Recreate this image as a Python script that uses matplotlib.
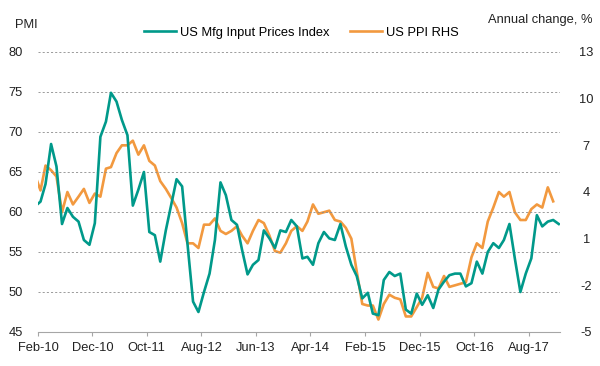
import numpy as np
import pandas as pd
import matplotlib
matplotlib.use("Agg")
import matplotlib.pyplot as plt

plt.rcParams['font.family'] = ['Liberation Sans', 'DejaVu Sans']
plt.rcParams['axes.unicode_minus'] = False

# monthly data, Jan-10 .. Jan-18 (PMI) / Dec-17 (PPI)
mfg_input_prices = [
    60.7, 61.3, 63.5, 68.5, 65.7, 58.5, 60.5, 59.4, 58.8, 56.5, 55.9, 58.6,
    69.4, 71.3, 74.9, 73.8, 71.5, 69.6, 60.8, 62.8, 65.0, 57.5, 57.1, 53.8,
    57.7, 61.0, 64.1, 63.2, 56.0, 48.8, 47.5, 50.0, 52.3, 56.5, 63.7, 62.1,
    59.0, 58.4, 55.3, 52.2, 53.4, 54.0, 57.7, 56.7, 55.5, 57.7, 57.5, 59.0,
    58.2, 54.2, 54.4, 53.4, 56.1, 57.5, 56.7, 56.5, 58.5, 55.7, 53.4, 52.0,
    49.2, 49.9, 47.3, 47.1, 51.5, 52.5, 52.0, 52.3, 47.8, 47.3, 49.8, 48.4,
    49.6, 48.0, 50.3, 51.3, 52.1, 52.3, 52.3, 50.7, 51.1, 53.8, 52.3, 55.0,
    56.1, 55.5, 56.5, 58.5, 54.2, 50.0, 52.3, 54.2, 59.6, 58.2, 58.8, 59.0,
    58.5,
]
us_ppi = [
    5.1, 4.1, 5.7, 5.4, 5.0, 2.7, 4.0, 3.2, 3.7, 4.2, 3.3, 3.9,
    3.7, 5.5, 5.6, 6.5, 7.0, 7.0, 7.3, 6.4, 7.0, 6.0, 5.7, 4.7,
    4.2, 3.6, 3.0, 2.0, 0.7, 0.7, 0.4, 1.9, 1.9, 2.3, 1.5, 1.3,
    1.5, 1.8, 1.2, 0.7, 1.5, 2.2, 2.0, 1.2, 0.2, 0.1, 0.7, 1.5,
    1.8, 1.5, 2.1, 3.2, 2.6, 2.7, 2.8, 2.2, 2.1, 1.7, 1.0, -1.1,
    -3.2, -3.3, -3.3, -4.2, -3.2, -2.6, -2.8, -2.9, -4.0, -4.0, -3.4, -2.8,
    -1.2, -2.1, -2.2, -1.4, -2.1, -2.0, -1.9, -1.8, -0.2, 0.7, 0.4, 2.1,
    3.0, 4.0, 3.7, 4.0, 2.7, 2.2, 2.2, 2.9, 3.2, 3.0, 4.3, 3.4,
]
pmi_dates = pd.date_range('2010-01-01', periods=len(mfg_input_prices), freq='MS') + pd.Timedelta(days=14)
ppi_dates = pd.date_range('2010-01-01', periods=len(us_ppi), freq='MS') + pd.Timedelta(days=14)

tick_dates = pd.date_range('2010-02-01', periods=10, freq='10MS')
tick_labels = [d.strftime('%b-%y') for d in tick_dates]
left_ticks = [45, 50, 55, 60, 65, 70, 75, 80]
right_ticks = [-5, -2, 1, 4, 7, 10, 13]

teal = '#00998A'
orange = '#F2993F'
grey = '#A6A6A6'
fs = 9.3

fig = plt.figure(figsize=(6, 3.66), dpi=100)
ax = fig.add_axes([38 / 600, 1 - 332 / 366, 522 / 600, 280 / 366])
ax2 = ax.twinx()

l1, = ax.plot(pmi_dates, mfg_input_prices, color=teal, lw=1.9, label='US Mfg Input Prices Index')
l2, = ax2.plot(ppi_dates, us_ppi, color=orange, lw=1.9, label='US PPI RHS')
ax.set_zorder(ax2.get_zorder() + 1)
ax.patch.set_visible(False)

ax.set_ylim(45, 80)
ax2.set_ylim(-5, 13)
ax.set_xlim(pd.Timestamp('2010-02-01'), pd.Timestamp('2018-01-22'))
ax.set_yticks(left_ticks)
ax2.set_yticks(right_ticks)
ax.set_xticks(tick_dates)
ax.set_xticklabels(tick_labels)

for y in left_ticks[1:]:
    ax.axhline(y, color='#8C8C8C', lw=0.6, ls=(0, (2.5, 2.5)), zorder=0)

for a in (ax, ax2):
    for s in ('top', 'right', 'left'):
        a.spines[s].set_visible(False)
ax2.spines['bottom'].set_visible(False)
ax.spines['bottom'].set_color(grey)
ax.spines['bottom'].set_linewidth(0.8)

ax.tick_params(axis='x', length=3, width=0.8, color=grey, pad=4, labelsize=fs, labelcolor='#222222')
ax.tick_params(axis='y', length=0, pad=11, labelsize=fs, labelcolor='#222222')
ax2.tick_params(axis='y', length=0, pad=19, labelsize=fs, labelcolor='#222222')
for lab in ax2.get_yticklabels():
    lab.set_horizontalalignment('center')

fig.text(15 / 600, 1 - 25 / 366, 'PMI', fontsize=fs, ha='left', va='center', color='#222222')
fig.text(593 / 600, 1 - 20 / 366, 'Annual change, %', fontsize=fs, ha='right', va='center', color='#222222')

fig.legend(handles=[l1, l2], loc='center', bbox_to_anchor=(0.502, 1 - 33 / 366), ncol=2,
           frameon=False, fontsize=fs, handlelength=2.5, handletextpad=0.3, columnspacing=1.6)

fig.savefig('out.png', dpi=100)
